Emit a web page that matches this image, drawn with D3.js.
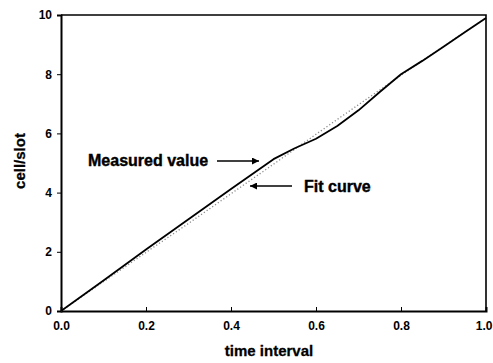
<!DOCTYPE html>
<html>
<head>
<meta charset="utf-8">
<script src="https://cdn.jsdelivr.net/npm/d3@7"></script>
<style>
  html, body { margin: 0; padding: 0; background: #fff; }
  svg { display: block; }
  text { font-family: "Liberation Sans", Arial, sans-serif; font-weight: bold; fill: #000; }
</style>
</head>
<body>
<svg id="chart" width="493" height="363"></svg>
<script>
// Sampled time positions and values
const measuredT = [0, 0.1, 0.2, 0.3, 0.4, 0.5, 0.55, 0.6, 0.65, 0.7, 0.75, 0.8, 0.85, 0.9, 0.95, 1.0];
const measuredV = [0, 1.03, 2.08, 3.1, 4.12, 5.13, 5.5, 5.82, 6.25, 6.78, 7.4, 8.0, 8.45, 8.93, 9.42, 9.9];
const fitT = [0, 0.1, 0.2, 0.3, 0.4, 0.5, 0.6, 0.7, 0.8, 0.9, 1.0];
const fitV = [0, 0.99, 1.98, 2.96, 3.96, 4.96, 5.97, 6.97, 7.96, 8.94, 9.9];
const xTicks = [0, 0.2, 0.4, 0.6, 0.8, 1.0];
const yTicks = [0, 2, 4, 6, 8, 10];
const xTitle = "time interval";
const yTitle = "cell/slot";
const measuredLabel = "Measured value";
const fitLabel = "Fit curve";

const svg = d3.select("#chart");
const plotLeft = 61, plotRight = 486, plotTop = 15, plotBottom = 311;

const x = d3.scaleLinear().domain([0, 1]).range([plotLeft, plotRight]);
const y = d3.scaleLinear().domain([0, 10]).range([plotBottom, plotTop]);

// Frame: top and right edges
svg.append("path")
  .attr("d", `M${plotLeft},${plotTop}H${plotRight}V${plotBottom}`)
  .attr("fill", "none").attr("stroke", "#000").attr("stroke-width", 1.6);

const tickFont = sel => sel.style("font-size", "12px").style("font-weight", "bold")
  .style("font-family", "'Liberation Sans', Arial, sans-serif");

// Y axis: short outward ticks
const yAxis = svg.append("g")
  .attr("transform", `translate(${plotLeft},0)`)
  .call(d3.axisLeft(y).tickValues(yTicks).tickSize(4).tickPadding(5).tickFormat(d3.format("d")));
yAxis.select(".domain").attr("stroke-width", 2);
yAxis.selectAll("text").call(tickFont);

// X axis: short inward ticks
const xAxis = svg.append("g")
  .attr("transform", `translate(0,${plotBottom})`)
  .call(d3.axisBottom(x).tickValues(xTicks).tickSize(-4).tickPadding(10).tickFormat(d3.format(".1f")));
xAxis.select(".domain").attr("stroke-width", 2);
xAxis.selectAll("text").call(tickFont);
// keep the last label inside the page edge
xAxis.selectAll(".tick").filter(d => d === 1).select("text")
  .attr("text-anchor", "end").attr("x", 6);

// Axis titles
svg.append("text")
  .attr("x", 269).attr("y", 356)
  .attr("text-anchor", "middle")
  .style("font-size", "15px")
  .attr("stroke", "#000").attr("stroke-width", 0.3)
  .text(xTitle);
svg.append("text")
  .attr("transform", `translate(25,161) rotate(-90)`)
  .attr("text-anchor", "middle")
  .style("font-size", "15px")
  .attr("stroke", "#000").attr("stroke-width", 0.3)
  .text(yTitle);

// Fit curve (dotted grey)
const fitLine = d3.line()
  .x((d, i) => x(fitT[i]))
  .y(d => y(d))
  .curve(d3.curveMonotoneX);
svg.append("path")
  .attr("d", fitLine(fitV))
  .attr("fill", "none")
  .attr("stroke", "#8a8a8a")
  .attr("stroke-width", 1.3)
  .attr("stroke-dasharray", "1.2,2.2");

// Measured values (solid black)
const measLine = d3.line()
  .x((d, i) => x(measuredT[i]))
  .y(d => y(d));
svg.append("path")
  .attr("d", measLine(measuredV))
  .attr("fill", "none")
  .attr("stroke", "#000")
  .attr("stroke-width", 1.8)
  .attr("stroke-linejoin", "round");

// Arrowhead marker
const defs = svg.append("defs");
defs.append("marker")
  .attr("id", "arrow")
  .attr("viewBox", "0 0 10 10")
  .attr("refX", 10).attr("refY", 5)
  .attr("markerWidth", 10).attr("markerHeight", 7)
  .attr("markerUnits", "userSpaceOnUse")
  .attr("orient", "auto")
  .append("path").attr("d", "M0,0L10,5L0,10Z").attr("fill", "#000");

// Callout: measured values
svg.append("text")
  .attr("x", 88).attr("y", 166)
  .style("font-size", "16px")
  .attr("stroke", "#000").attr("stroke-width", 0.4)
  .text(measuredLabel);
svg.append("line")
  .attr("x1", 217).attr("y1", 161).attr("x2", 259).attr("y2", 161)
  .attr("stroke", "#000").attr("stroke-width", 1.5)
  .attr("marker-end", "url(#arrow)");

// Callout: fit curve
svg.append("text")
  .attr("x", 304).attr("y", 192)
  .style("font-size", "16px")
  .attr("stroke", "#000").attr("stroke-width", 0.4)
  .text(fitLabel);
svg.append("line")
  .attr("x1", 292).attr("y1", 186).attr("x2", 250).attr("y2", 186)
  .attr("stroke", "#000").attr("stroke-width", 1.5)
  .attr("marker-end", "url(#arrow)");
</script>
</body>
</html>
